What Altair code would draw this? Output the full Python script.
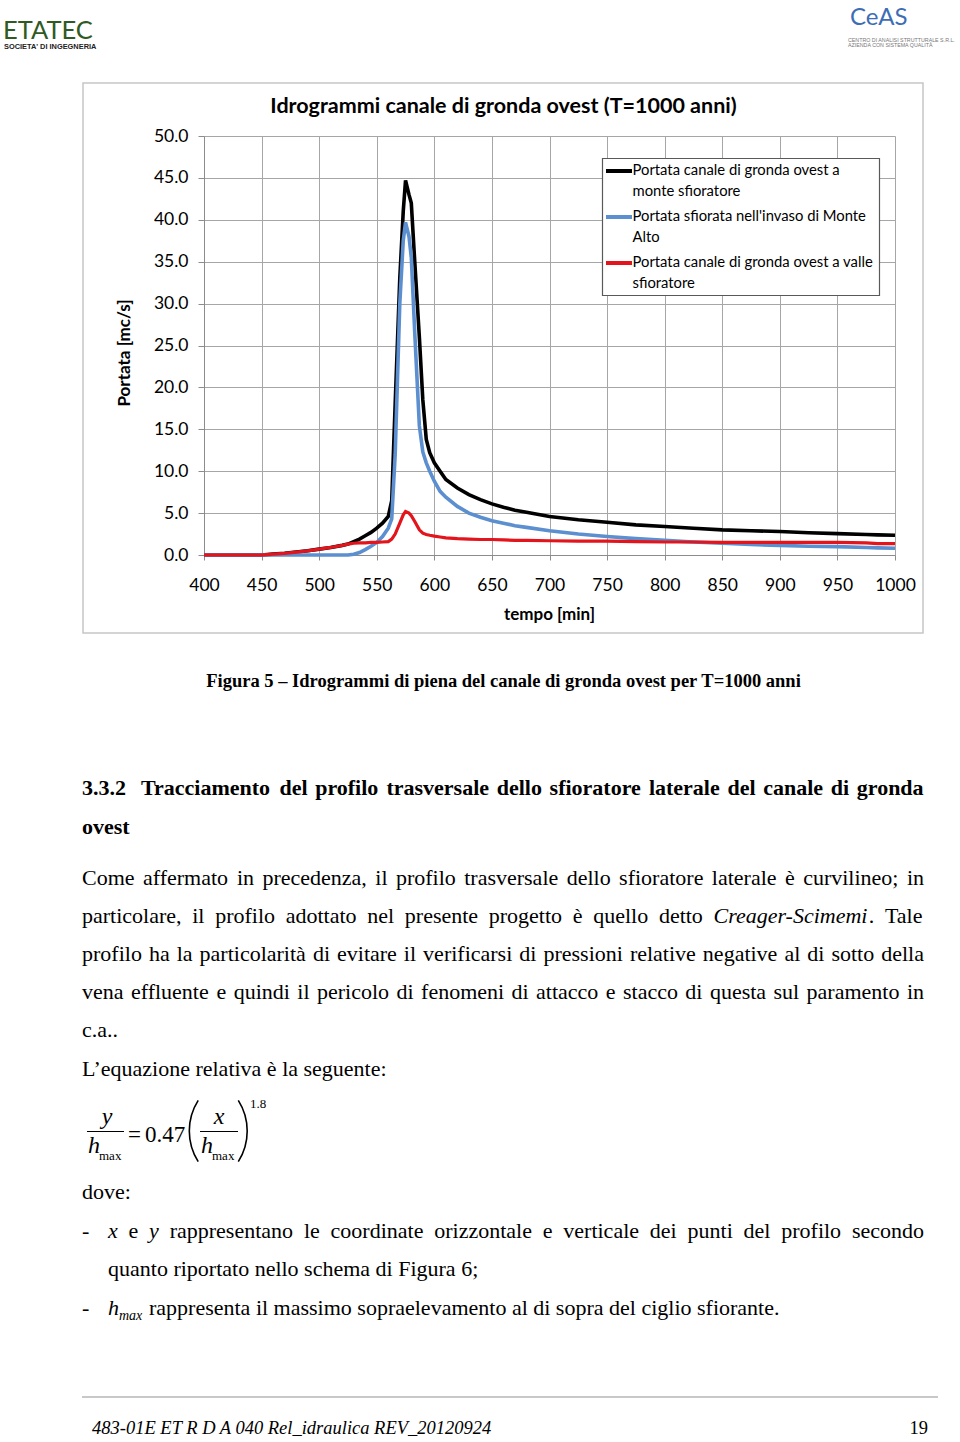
import altair as alt
import pandas as pd

# ------------------------------------------------------------------ data
TEMPO = [400, 450, 460, 470, 480, 490, 500, 510, 520, 525,
         530, 535, 540, 545, 550, 555, 560, 563, 566, 570,
         573, 575, 578, 580, 583, 587, 590, 593, 596, 600,
         605, 610, 620, 630, 640, 650, 660, 670, 680, 700,
         725, 750, 775, 800, 825, 850, 875, 900, 925, 950,
         975, 985, 1000]
Q_MONTE = [0, 0, 0.1, 0.2, 0.35, 0.5, 0.7, 0.9, 1.15, 1.3,
           1.6, 1.9, 2.3, 2.7, 3.2, 3.8, 4.6, 6.5, 18.0, 33.0,
           41.0, 44.7, 43.0, 42.0, 35.0, 26.0, 18.5, 13.8, 12.2, 11.0,
           10.0, 9.0, 8.0, 7.2, 6.6, 6.1, 5.7, 5.35, 5.1, 4.6,
           4.2, 3.9, 3.6, 3.4, 3.2, 3.0, 2.9, 2.8, 2.65, 2.55,
           2.45, 2.4, 2.35]
Q_SFIORATA = [0, 0, 0, 0, 0, 0, 0, 0, 0, 0,
              0.1, 0.3, 0.65, 1.05, 1.5, 2.2, 3.2, 4.3, 12.0, 30.0,
              37.5, 39.7, 38.0, 35.5, 26.5, 15.4, 12.3, 11.0, 10.0, 8.8,
              7.6, 6.9, 5.8, 5.0, 4.5, 4.1, 3.8, 3.5, 3.3, 2.9,
              2.5, 2.2, 1.95, 1.75, 1.55, 1.4, 1.25, 1.15, 1.05, 1.0,
              0.9, 0.85, 0.8]
Q_VALLE = [0, 0, 0.1, 0.2, 0.35, 0.5, 0.7, 0.9, 1.15, 1.3,
           1.4, 1.45, 1.45, 1.5, 1.5, 1.55, 1.6, 1.9, 2.5, 3.8,
           4.8, 5.2, 5.0, 4.7, 4.0, 3.0, 2.6, 2.45, 2.35, 2.25,
           2.15, 2.05, 1.95, 1.9, 1.85, 1.85, 1.8, 1.75, 1.75, 1.7,
           1.65, 1.65, 1.6, 1.55, 1.55, 1.5, 1.5, 1.5, 1.5, 1.5,
           1.45, 1.35, 1.35]
SERIE = ["Portata canale di gronda ovest a monte sfioratore",
         "Portata sfiorata nell'invaso di Monte Alto",
         "Portata canale di gronda ovest a valle sfioratore"]
LEGENDA = [["Portata canale di gronda ovest a", "monte sfioratore"],
           ["Portata sfiorata nell'invaso di Monte", "Alto"],
           ["Portata canale di gronda ovest a valle", "sfioratore"]]
COLORI = ["#000000", "#5b8fd0", "#e3141c"]
X_TICKS = list(range(400, 1001, 50))
Y_TICKS = [0, 5, 10, 15, 20, 25, 30, 35, 40, 45, 50]

TITOLO = "Idrogrammi canale di gronda ovest (T=1000 anni)"
X_TITLE = "tempo [min]"
Y_TITLE = "Portata [mc/s]"

CAPTION = "Figura 5 – Idrogrammi di piena del canale di gronda ovest per T=1000 anni"
HEAD_NUM = "3.3.2"
HEAD_1 = "Tracciamento del profilo trasversale dello sfioratore laterale del canale di gronda"
HEAD_2 = "ovest"
PARA_J = ["Come affermato in precedenza, il profilo trasversale dello sfioratore laterale è curvilineo; in",
          "particolare, il profilo adottato nel presente progetto è quello detto *Creager-Scimemi*. Tale",
          "profilo ha la particolarità di evitare il verificarsi di pressioni relative negative al di sotto della",
          "vena effluente e quindi il pericolo di fenomeni di attacco e stacco di questa sul paramento in"]
PARA_END = ["c.a..", "L’equazione relativa è la seguente:"]
DOVE = "dove:"
LIST_1 = "*x* e *y* rappresentano le coordinate orizzontale e verticale dei punti del profilo secondo"
LIST_2 = "quanto riportato nello schema di Figura 6;"
LIST_3 = "rappresenta il massimo sopraelevamento al di sopra del ciglio sfiorante."
FOOTER = "483-01E ET R D A 040 Rel_idraulica REV_20120924"
PAGE = "19"

# ------------------------------------------------------------------ layout
OX, OY = 204, 136
W, H = 691, 419
PAD = {"left": OX, "top": OY, "right": 960 - OX - W, "bottom": 1442 - OY - H}
SERIF = "Liberation Serif"
SANS = "Lato"

# Times metrics (per 1000 em) for justification
_low = "abcdefghijklmnopqrstuvwxyz"
ROMAN = dict(zip(_low, [444, 500, 444, 500, 444, 333, 500, 500, 278, 278, 500, 278, 778,
                        500, 500, 500, 500, 333, 389, 278, 500, 500, 722, 500, 500, 444]))
ROMAN.update(dict(zip("ABCDEFGHIJKLMNOPQRSTUVWXYZ",
                      [722, 667, 667, 722, 611, 556, 722, 722, 333, 389, 722, 611, 889,
                       722, 722, 556, 722, 667, 556, 611, 722, 722, 944, 722, 722, 611])))
ROMAN.update({" ": 250, ",": 250, ".": 250, ";": 278, ":": 278, "-": 333, "’": 333, "'": 180,
              "è": 444, "à": 444, "é": 444, "ì": 278, "ò": 500, "ù": 500})
BOLD = dict(zip(_low, [500, 556, 444, 556, 444, 333, 500, 556, 278, 333, 556, 278, 833,
                       556, 500, 556, 556, 444, 389, 333, 556, 500, 722, 500, 500, 444]))
BOLD.update({" ": 250, ",": 250, ".": 250, "T": 667})
ITAL = dict(zip(_low, [500, 500, 444, 500, 444, 278, 500, 500, 278, 278, 444, 278, 722,
                       500, 500, 500, 500, 389, 389, 278, 500, 444, 667, 444, 444, 389]))
ITAL.update({" ": 250, ",": 250, ".": 250, "-": 333, "C": 667, "S": 500})
TABLES = {"N": ROMAN, "B": BOLD, "I": ITAL}


def tw(s, st, size):
    t = TABLES[st]
    return sum(t.get(c, 500) for c in s) / 1000.0 * size


rows = []


def add(text, px, py, font=SERIF, size=22, weight="normal", style="normal",
        color="#000000", align="left", baseline="alphabetic", angle=0):
    rows.append(dict(text=text, px=px, py=py, font=font, size=size, weight=weight,
                     style=style, color=color, align=align, baseline=baseline, angle=angle))


def seg_add(t, st, x, y, size):
    add(t, x, y, size=size,
        weight="bold" if st == "B" else "normal",
        style="italic" if st == "I" else "normal")


def tokens_of(line, base="N"):
    toks = []
    for w in line.split(" "):
        parts = w.split("*")
        segs = []
        for i, p in enumerate(parts):
            if p:
                segs.append((p, "I" if i % 2 == 1 else base))
        toks.append(segs)
    return toks


def justify(line, x0, x1, y, size=22, base="N"):
    toks = tokens_of(line, base)
    widths = [sum(tw(t, st, size) for t, st in tok) for tok in toks]
    gap = (x1 - x0 - sum(widths)) / (len(toks) - 1)
    x = x0
    for tok, wd in zip(toks, widths):
        cx = x
        for t, st in tok:
            seg_add(t, st, cx, y, size)
            cx += tw(t, st, size)
        x += wd + gap


# header logos
add("ETATEC", 3, 39, font=SANS, size=25.5, color="#2f5a22")
add("SOCIETA' DI INGEGNERIA", 4, 48.5, font="Liberation Sans", size=7.4, weight="bold", color="#222222")
add("CeAS", 850, 25, font=SANS, size=24, color="#3d6db5")
add("CENTRO DI ANALISI STRUTTURALE S.R.L.", 848, 41.5, font="Liberation Sans", size=5.3, color="#777777")
add("AZIENDA CON SISTEMA QUALITÀ", 848, 46.5, font="Liberation Sans", size=5.3, color="#777777")

# chart texts
add(TITOLO, 503.5, 106.5, font=SANS, size=21.5, weight="bold", align="center", baseline="middle")
add(X_TITLE, 549.5, 615, font=SANS, size=17, weight="bold", align="center", baseline="middle")
add(Y_TITLE, 125, 353, font=SANS, size=17, weight="bold", align="center", baseline="middle", angle=270)
for i, (l1, l2) in enumerate(LEGENDA):
    add(l1, 632.5, 171 + 46 * i, font=SANS, size=14.8, baseline="middle")
    add(l2, 632.5, 191.5 + 46 * i, font=SANS, size=14.8, baseline="middle")

# document text
add(CAPTION, 503.5, 687, size=18.5, weight="bold", align="center")
add(HEAD_NUM, 82, 795, weight="bold")
justify(HEAD_1, 141, 924, 795, base="B")
add(HEAD_2, 82, 834, weight="bold")
for i, ln in enumerate(PARA_J):
    justify(ln, 82, 924, 884.5 + 38.2 * i)
add(PARA_END[0], 82, 1037.3)
add(PARA_END[1], 82, 1075.5)
add(DOVE, 82, 1199)
add("-", 82, 1237.5)
justify(LIST_1, 108, 924, 1237.5)
add(LIST_2, 108, 1276)
add("-", 82, 1315)
add("h", 108, 1315, style="italic")
add("max", 119, 1319.5, size=14, style="italic")
add(LIST_3, 149, 1315)
add(FOOTER, 92, 1434, size=18.5, style="italic")
add(PAGE, 928, 1434, size=18.5, align="right")

# formula
add("y", 107, 1124, size=24, style="italic", align="center")
add("h", 88, 1153, size=24, style="italic")
add("max", 99, 1160, size=13)
add("=", 128, 1142, size=23)
add("0.47", 145, 1142, size=23)
add("x", 219, 1124, size=24, style="italic", align="center")
add("h", 201, 1153, size=24, style="italic")
add("max", 212, 1160, size=13)
add("1.8", 250, 1108, size=13)


def text_layers(rs_all):
    groups = {}
    order = []
    for r in rs_all:
        key = (r["font"], r["size"], r["weight"], r["style"], r["color"], r["align"], r["baseline"], r["angle"])
        if key not in groups:
            groups[key] = []
            order.append(key)
        groups[key].append(r)
    out = []
    for key in order:
        font, size, weight, style, color, align, baseline, angle = key
        rs = groups[key]
        d = pd.DataFrame({"txt": [r["text"] for r in rs],
                          "px": [r["px"] - OX for r in rs],
                          "py": [r["py"] - OY for r in rs]})
        kw = dict(font=font, fontSize=size, color=color, align=align, baseline=baseline)
        if weight != "normal":
            kw["fontWeight"] = weight
        if style != "normal":
            kw["fontStyle"] = style
        if angle:
            kw["angle"] = angle
        out.append(alt.Chart(d).mark_text(**kw).encode(
            x=alt.X("px:Q", scale=None), y=alt.Y("py:Q", scale=None), text="txt:N"))
    return out


ONE = pd.DataFrame({"k": [0]})


def hrule(x1, x2, y, color, width):
    return alt.Chart(ONE).mark_rule(color=color, strokeWidth=width).encode(
        x=alt.value(x1 - OX), x2=alt.value(x2 - OX), y=alt.value(y - OY))


def box(x1, y1, x2, y2, stroke, width, fill="#ffffff", fill_op=1.0):
    return alt.Chart(ONE).mark_rect(fill=fill, fillOpacity=fill_op, stroke=stroke, strokeWidth=width).encode(
        x=alt.value(x1 - OX), x2=alt.value(x2 - OX), y=alt.value(y1 - OY), y2=alt.value(y2 - OY))


def paren(cx, cy, r, a0, a1):
    import math
    return alt.Chart(ONE).mark_arc(theta=math.radians(a0), theta2=math.radians(a1),
                                   radius=r, radius2=r - 1.6, color="#000000").encode(
        x=alt.value(cx - OX), y=alt.value(cy - OY))


# ------------------------------------------------------------------ chart
n = len(TEMPO)
df = pd.DataFrame({"tempo": TEMPO * 3,
                   "portata": Q_MONTE + Q_SFIORATA + Q_VALLE,
                   "serie": [SERIE[0]] * n + [SERIE[1]] * n + [SERIE[2]] * n})

x_axis = alt.Axis(values=X_TICKS, format="d", title=None, grid=True, gridColor="#a6a6a6", gridWidth=1,
                  domainColor="#8c8c8c", tickColor="#8c8c8c", tickSize=5, labelFont=SANS, labelFontSize=17.5,
                  labelColor="#000000", labelPadding=16, labelFlush=False, labelOverlap=False)
y_axis = alt.Axis(values=Y_TICKS, format=".1f", title=None, grid=True, gridColor="#a6a6a6", gridWidth=1,
                  domainColor="#8c8c8c", tickColor="#8c8c8c", tickSize=6, labelFont=SANS, labelFontSize=17.5,
                  labelColor="#000000", labelPadding=10, labelOverlap=False)
xenc = alt.X("tempo:Q", scale=alt.Scale(domain=[400, 1000], nice=False, zero=False), axis=x_axis)
yenc = alt.Y("portata:Q", scale=alt.Scale(domain=[0, 50], nice=False), axis=y_axis)

line_layers = []
for s, c, w in zip(SERIE, COLORI, [3.6, 3.6, 3.2]):
    line_layers.append(alt.Chart(df).transform_filter(alt.datum.serie == s)
                       .mark_line(color=c, strokeWidth=w).encode(x=xenc, y=yenc))

layers = [box(83, 83, 923, 633, "#c6c6c6", 1.5, fill_op=0.0)]
layers += line_layers
layers.append(box(602.5, 158.5, 879.5, 295.5, "#595959", 1.2))
for i, c in enumerate(COLORI):
    layers.append(hrule(606, 632, 171 + 46 * i, c, 4))
layers += [hrule(87, 124, 1131.5, "#000000", 1.2), hrule(200, 238, 1131.5, "#000000", 1.2)]
layers += [paren(246.5, 1131, 58, 237.6, 302.4), paren(190, 1131, 58, 57.6, 122.4)]
layers.append(hrule(82, 938, 1397, "#c8c8c8", 2))
layers += text_layers(rows)

chart = alt.layer(*layers).properties(
    width=W, height=H,
    autosize=alt.AutoSizeParams(type="none"),
    padding=PAD,
    background="#ffffff",
).configure_view(strokeWidth=0)

chart.save("out.html", embed_options={"renderer": "svg", "actions": False})
